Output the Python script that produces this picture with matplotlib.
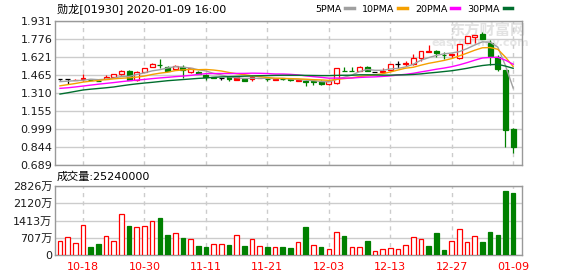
import matplotlib
matplotlib.use('Agg')
import matplotlib.pyplot as plt
import numpy as np

plt.rcParams['font.family'] = ['DejaVu Sans', 'Noto Sans CJK SC']

# trading days shown (HKEX), 2019-10-15 .. 2020-01-09
dates = ['10-15', '10-16', '10-17', '10-18', '10-21', '10-22', '10-23', '10-24', '10-25', '10-28',
         '10-29', '10-30', '10-31', '11-01', '11-04', '11-05', '11-06', '11-07', '11-08', '11-11',
         '11-12', '11-13', '11-14', '11-15', '11-18', '11-19', '11-20', '11-21', '11-22', '11-25',
         '11-26', '11-27', '11-28', '11-29', '12-02', '12-03', '12-04', '12-05', '12-06', '12-09',
         '12-10', '12-11', '12-12', '12-13', '12-16', '12-17', '12-18', '12-19', '12-20', '12-23',
         '12-24', '12-27', '12-30', '12-31', '01-02', '01-03', '01-06', '01-07', '01-08', '01-09']

opens = [1.428, 1.431, 1.423, 1.435, 1.424, 1.416, 1.431, 1.451, 1.471, 1.502,
         1.420, 1.494, 1.532, 1.553, 1.534, 1.517, 1.534, 1.494, 1.494, 1.468,
         1.444, 1.440, 1.445, 1.422, 1.433, 1.433, 1.438, 1.435, 1.425, 1.429,
         1.430, 1.414, 1.416, 1.410, 1.411, 1.390, 1.394, 1.504, 1.504, 1.502,
         1.532, 1.491, 1.494, 1.511, 1.558, 1.564, 1.558, 1.615, 1.664, 1.672,
         1.642, 1.641, 1.609, 1.742, 1.790, 1.818, 1.745, 1.620, 1.505, 1.000]
closes = [1.428, 1.431, 1.426, 1.438, 1.420, 1.412, 1.448, 1.476, 1.502, 1.425,
          1.494, 1.523, 1.563, 1.549, 1.502, 1.546, 1.506, 1.523, 1.476, 1.451,
          1.441, 1.440, 1.433, 1.445, 1.416, 1.451, 1.441, 1.432, 1.430, 1.427,
          1.426, 1.418, 1.405, 1.407, 1.388, 1.411, 1.523, 1.500, 1.501, 1.537,
          1.502, 1.491, 1.499, 1.558, 1.558, 1.568, 1.609, 1.672, 1.668, 1.653,
          1.638, 1.645, 1.730, 1.798, 1.808, 1.775, 1.630, 1.520, 0.991, 0.847]
highs = [1.433, 1.433, 1.427, 1.476, 1.426, 1.420, 1.462, 1.478, 1.511, 1.505,
         1.496, 1.526, 1.566, 1.603, 1.540, 1.549, 1.551, 1.526, 1.497, 1.471,
         1.448, 1.442, 1.447, 1.447, 1.436, 1.457, 1.443, 1.437, 1.432, 1.431,
         1.437, 1.420, 1.418, 1.411, 1.422, 1.414, 1.528, 1.537, 1.534, 1.540,
         1.546, 1.493, 1.523, 1.560, 1.583, 1.583, 1.644, 1.675, 1.725, 1.685,
         1.660, 1.647, 1.733, 1.802, 1.812, 1.833, 1.765, 1.638, 1.508, 1.006]
lows = [1.420, 1.385, 1.421, 1.414, 1.418, 1.410, 1.428, 1.449, 1.468, 1.420,
        1.414, 1.490, 1.530, 1.528, 1.497, 1.512, 1.437, 1.485, 1.470, 1.422,
        1.436, 1.425, 1.416, 1.420, 1.412, 1.416, 1.436, 1.416, 1.422, 1.425,
        1.416, 1.410, 1.370, 1.382, 1.376, 1.379, 1.390, 1.498, 1.499, 1.498,
        1.499, 1.489, 1.488, 1.508, 1.528, 1.546, 1.555, 1.586, 1.662, 1.620,
        1.605, 1.609, 1.605, 1.738, 1.738, 1.772, 1.555, 1.500, 0.847, 0.795]
# r = up (hollow red), R = solid red, g = down (green), k = flat
kinds = 'kkrrggrrrgrrrggrgrgggkgRgrrgRggrgggrrggrgkrrkrrrrggrrrrggggg'

ma5 = [1.408, 1.412, 1.416, 1.420, 1.429, 1.425, 1.429, 1.439, 1.452, 1.453,
       1.469, 1.484, 1.501, 1.511, 1.526, 1.537, 1.533, 1.525, 1.511, 1.500,
       1.479, 1.466, 1.448, 1.442, 1.435, 1.437, 1.437, 1.437, 1.434, 1.436,
       1.431, 1.427, 1.421, 1.417, 1.409, 1.406, 1.427, 1.446, 1.465, 1.494,
       1.513, 1.506, 1.506, 1.517, 1.522, 1.535, 1.558, 1.593, 1.615, 1.634,
       1.648, 1.655, 1.667, 1.693, 1.724, 1.751, 1.748, 1.706, 1.545, 1.353]
ma10 = [1.372, 1.382, 1.392, 1.404, 1.412, 1.418, 1.426, 1.432, 1.437, 1.441,
        1.447, 1.456, 1.470, 1.481, 1.489, 1.503, 1.509, 1.513, 1.511, 1.513,
        1.508, 1.500, 1.487, 1.476, 1.468, 1.458, 1.452, 1.443, 1.438, 1.436,
        1.434, 1.432, 1.429, 1.425, 1.423, 1.419, 1.427, 1.434, 1.441, 1.452,
        1.459, 1.467, 1.476, 1.491, 1.508, 1.524, 1.532, 1.550, 1.566, 1.578,
        1.591, 1.607, 1.630, 1.654, 1.679, 1.700, 1.702, 1.687, 1.619, 1.538]
ma20 = [1.350, 1.355, 1.362, 1.370, 1.378, 1.386, 1.393, 1.400, 1.408, 1.415,
        1.421, 1.427, 1.434, 1.440, 1.445, 1.451, 1.456, 1.462, 1.470, 1.477,
        1.478, 1.478, 1.478, 1.479, 1.479, 1.481, 1.480, 1.478, 1.474, 1.474,
        1.471, 1.466, 1.458, 1.451, 1.445, 1.438, 1.439, 1.438, 1.439, 1.444,
        1.447, 1.449, 1.453, 1.458, 1.465, 1.471, 1.480, 1.492, 1.503, 1.515,
        1.525, 1.537, 1.553, 1.572, 1.593, 1.612, 1.617, 1.618, 1.593, 1.558]
ma30 = [1.301, 1.312, 1.324, 1.336, 1.343, 1.349, 1.355, 1.362, 1.372, 1.381,
        1.389, 1.396, 1.402, 1.409, 1.416, 1.421, 1.426, 1.431, 1.436, 1.440,
        1.445, 1.449, 1.451, 1.453, 1.455, 1.457, 1.459, 1.460, 1.462, 1.463,
        1.463, 1.463, 1.462, 1.461, 1.460, 1.460, 1.462, 1.463, 1.463, 1.467,
        1.467, 1.466, 1.464, 1.464, 1.466, 1.467, 1.470, 1.475, 1.482, 1.488,
        1.495, 1.502, 1.512, 1.523, 1.536, 1.547, 1.554, 1.557, 1.542, 1.523]

# volume in 万 shares
volumes = [573, 723, 478, 1215, 314, 450, 764, 560, 1665, 1188,
           1133, 1174, 1379, 1515, 805, 887, 696, 641, 369, 328,
           437, 437, 410, 805, 369, 641, 355, 328, 314, 328,
           287, 532, 1147, 396, 328, 232, 942, 778, 314, 314,
           573, 150, 232, 273, 232, 396, 723, 641, 369, 901,
           205, 573, 1051, 532, 764, 532, 942, 819, 2621, 2524]
vol_kinds = 'rrrrggrrrgrrrggrgrggrrgrgrrgrggrgrgrrgrrgrrrrrrrgggrrrrggggg'

price_ticks = [0.689, 0.844, 0.999, 1.155, 1.310, 1.465, 1.621, 1.776, 1.931]
vol_ticks = [0, 707, 1413, 2120, 2826]
vol_tick_labels = ['0', '707万', '1413万', '2120万', '2826万']
date_ticks = ['10-18', '10-30', '11-11', '11-21', '12-03', '12-13', '12-27', '01-09']

RED = '#ff0000'
GREEN = '#008000'
colors = {'r': RED, 'R': RED, 'g': GREEN, 'k': '#000000'}
ma_styles = [('5PMA', ma5, '#a0a0a0'), ('10PMA', ma10, '#f5a000'),
             ('20PMA', ma20, '#ff00ff'), ('30PMA', ma30, '#006e2e')]

W, H = 578, 276
fig = plt.figure(figsize=(W / 100, H / 100), dpi=100)
ax = fig.add_axes([55 / W, 1 - 165 / H, 467 / W, 144 / H])
axv = fig.add_axes([55 / W, 1 - 255 / H, 467 / W, 69 / H])

x = np.arange(len(dates))
tick_pos = [dates.index(d) for d in date_ticks]
w = 0.64

# candles
for i in x:
    k = kinds[i]
    c = colors[k]
    ax.vlines(i, lows[i], highs[i], color=c, lw=0.9, zorder=2)
    if k == 'k':
        ax.hlines(opens[i], i - w / 2, i + w / 2, color=c, lw=0.9, zorder=3)
    else:
        bottom = min(opens[i], closes[i])
        height = abs(closes[i] - opens[i])
        face = 'white' if k == 'r' else c
        ax.bar(i, height, w, bottom, facecolor=face, edgecolor=c, lw=0.9, zorder=3)

lines = []
for name, vals, col in ma_styles:
    ln, = ax.plot(x, vals, color=col, lw=1.0, label=name, zorder=4)
    lines.append(ln)

for a in (ax, axv):
    a.set_xlim(-0.65, 60.15)
    a.set_xticks(tick_pos)
    a.xaxis.grid(True, color='#cccccc', lw=1, ls=(0, (3, 3)))
    a.yaxis.grid(True, color='#cccccc', lw=1, ls='-')
    a.set_axisbelow(True)
    for s in a.spines.values():
        s.set_color('#999999')
        s.set_linewidth(1)
    a.tick_params(length=0, labelsize=8, colors='#1a1a1a', pad=2)

ax.set_ylim(price_ticks[0], price_ticks[-1])
ax.set_yticks(price_ticks, [f'{v:.3f}' for v in price_ticks])
ax.tick_params(axis='x', labelbottom=False)

# volume bars
for i in x:
    c = colors[vol_kinds[i]]
    face = 'white' if vol_kinds[i] == 'r' else c
    axv.bar(i, volumes[i], 0.6, facecolor=face, edgecolor=c, lw=0.9, zorder=3)
axv.set_ylim(vol_ticks[0], vol_ticks[-1])
axv.set_yticks(vol_ticks, vol_tick_labels)
axv.set_xticks(tick_pos, date_ticks)
axv.tick_params(axis='x', colors=RED, pad=5)

# watermark
ax.text(0.925, 0.94, '东方财富网', transform=ax.transAxes, ha='center', va='center',
        fontsize=11, fontweight='bold', color='#e2e2e2', zorder=0,
        family=['Noto Sans CJK SC'])
ax.text(0.91, 0.85, 'eastmoney.com', transform=ax.transAxes, ha='center', va='center',
        fontsize=8, fontweight='bold', color='#e6e6e6', zorder=0)

fig.text(57 / W, 1 - 9 / H, '勋龙[01930] 2020-01-09 16:00', ha='left', va='center',
         fontsize=8, color='#000000')
fig.text(57 / W, 1 - 176.5 / H, '成交量:%d' % (volumes[-1] * 10000), ha='left', va='center',
         fontsize=8, color='#000000')

leg = fig.legend(handles=lines, loc='center right', bbox_to_anchor=(512 / W, 1 - 9 / H),
                 ncol=4, frameon=False, markerfirst=False, fontsize=6.8,
                 handlelength=0.9, handletextpad=0.35, columnspacing=0.9, borderpad=0,
                 borderaxespad=0)
for h in leg.legend_handles:
    h.set_linewidth(2.5)

fig.savefig('out.png', dpi=100)
